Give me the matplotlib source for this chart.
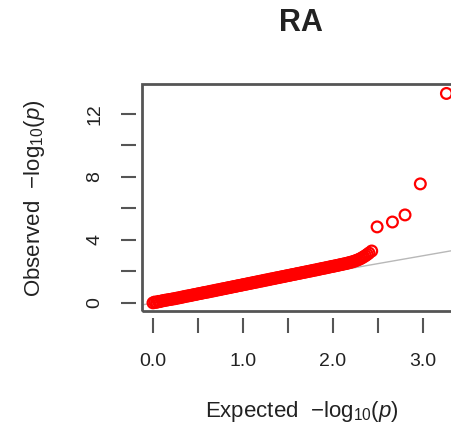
import matplotlib
matplotlib.use("Agg")
import matplotlib.pyplot as plt
from matplotlib.patches import Rectangle

plt.rcParams['font.family'] = ['Liberation Sans', 'DejaVu Sans']
plt.rcParams['mathtext.fontset'] = 'custom'
plt.rcParams['mathtext.rm'] = 'Liberation Sans'
plt.rcParams['mathtext.it'] = 'Liberation Sans:italic'

# QQ plot values: expected vs observed -log10(p)
expected = [0.00, 0.02, 0.04, 0.06, 0.08, 0.10, 0.12, 0.14, 0.16, 0.18,
            0.20, 0.22, 0.24, 0.26, 0.28, 0.30, 0.32, 0.34, 0.36, 0.38,
            0.40, 0.42, 0.44, 0.46, 0.48, 0.50, 0.52, 0.54, 0.56, 0.58,
            0.60, 0.62, 0.64, 0.66, 0.68, 0.70, 0.72, 0.74, 0.76, 0.78,
            0.80, 0.82, 0.84, 0.86, 0.88, 0.90, 0.92, 0.94, 0.96, 0.98,
            1.00, 1.02, 1.04, 1.06, 1.08, 1.10, 1.12, 1.14, 1.16, 1.18,
            1.20, 1.22, 1.24, 1.26, 1.28, 1.30, 1.32, 1.34, 1.36, 1.38,
            1.40, 1.42, 1.44, 1.46, 1.48, 1.50, 1.52, 1.54, 1.56, 1.58,
            1.60, 1.62, 1.64, 1.66, 1.68, 1.70, 1.72, 1.74, 1.76, 1.78,
            1.80, 1.82, 1.84, 1.86, 1.88, 1.90, 1.92, 1.94, 1.96, 1.98,
            2.00, 2.02, 2.04, 2.06, 2.08, 2.10, 2.12, 2.14, 2.16, 2.18,
            2.20, 2.22, 2.24, 2.26, 2.28, 2.30, 2.32, 2.34, 2.36, 2.38,
            2.40, 2.43,
            2.49, 2.66, 2.80, 2.97, 3.26]
observed = [0.01, 0.06, 0.04, 0.10, 0.09, 0.14, 0.15, 0.18, 0.19, 0.22,
            0.23, 0.26, 0.27, 0.30, 0.32, 0.34, 0.37, 0.39, 0.42, 0.44,
            0.46, 0.48, 0.51, 0.53, 0.55, 0.58, 0.60, 0.62, 0.65, 0.67,
            0.69, 0.71, 0.74, 0.76, 0.78, 0.81, 0.83, 0.85, 0.88, 0.90,
            0.92, 0.95, 0.97, 0.99, 1.02, 1.04, 1.06, 1.09, 1.11, 1.13,
            1.16, 1.18, 1.20, 1.23, 1.25, 1.27, 1.30, 1.32, 1.34, 1.37,
            1.39, 1.41, 1.44, 1.46, 1.48, 1.51, 1.53, 1.55, 1.58, 1.60,
            1.62, 1.65, 1.67, 1.69, 1.72, 1.74, 1.76, 1.79, 1.81, 1.83,
            1.86, 1.88, 1.90, 1.93, 1.95, 1.97, 2.00, 2.02, 2.04, 2.07,
            2.09, 2.11, 2.14, 2.16, 2.19, 2.21, 2.23, 2.26, 2.28, 2.31,
            2.33, 2.35, 2.38, 2.40, 2.43, 2.45, 2.48, 2.50, 2.53, 2.56,
            2.59, 2.62, 2.66, 2.70, 2.75, 2.80, 2.86, 2.93, 3.00, 3.08,
            3.17, 3.30,
            4.83, 5.14, 5.59, 7.56, 13.30]

x_ticks = [0.0, 0.5, 1.0, 1.5, 2.0, 2.5, 3.0]
x_labels = ['0.0', '', '1.0', '', '2.0', '', '3.0']
y_ticks = [0, 2, 4, 6, 8, 10, 12]
y_labels = ['0', '', '4', '', '8', '', '12']

W, H = 452, 429
fig = plt.figure(figsize=(W / 100, H / 100), dpi=100)
ax = fig.add_axes([142 / W, 118 / H, 320 / W, 227 / H])

ax.plot([-1, 20], [-1, 20], color='#b8b8b8', lw=1.0, zorder=1)
ax.scatter(expected, observed, s=60, facecolors='none', edgecolors='red',
           linewidths=1.6, zorder=2)

ax.set_xlim(-0.122, 3.433)
ax.set_ylim(-0.508, 13.9)

# box drawn separately so the tick marks can sit a little away from it
for side in ax.spines:
    ax.spines[side].set_visible(False)
ax.spines['bottom'].set_position(('outward', 5))
ax.spines['left'].set_position(('outward', 4))
ax.add_patch(Rectangle((0, 0), 1, 1, transform=ax.transAxes, fill=False,
                       ec='#555555', lw=2, clip_on=False, zorder=3))

ax.set_xticks(x_ticks)
ax.set_xticklabels(x_labels)
ax.set_yticks(y_ticks)
ax.set_yticklabels(y_labels, rotation=90, va='center')
ax.tick_params(direction='out', length=11, width=1.5, color='#555555',
               labelsize=14, labelcolor='#222222')
ax.tick_params(axis='x', pad=14)
ax.tick_params(axis='y', pad=13)

fig.text(301 / W, 1 - 23 / H, 'RA', fontsize=22, fontweight='bold',
         ha='center', va='center', color='#222222')
fig.text(302 / W, 1 - 412 / H, r'Expected  $-$log$_{10}$($p$)', fontsize=16,
         ha='center', va='center', color='#222222')
fig.text(35 / W, 1 - 198 / H, r'Observed  $-$log$_{10}$($p$)', fontsize=16,
         ha='center', va='center', rotation=90, color='#222222')

fig.savefig('out.png', dpi=100)
